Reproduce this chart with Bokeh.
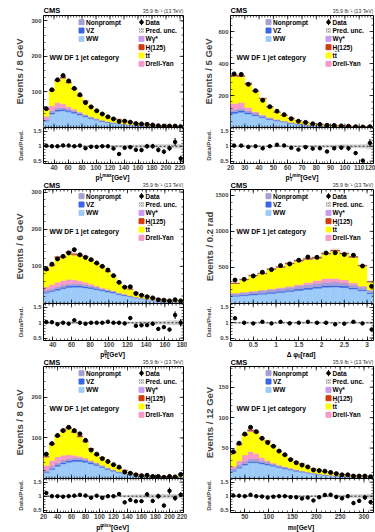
import numpy as np
from bokeh.plotting import figure
from bokeh.models import Range1d, Label, FixedTicker, Span
from bokeh.layouts import column, row
from bokeh.embed import file_html
from bokeh.resources import INLINE

FONT = "Liberation Sans"

# ---------------- bin edges ----------------
ptmax_edges = np.arange(25, 226, 8)
ptmin_edges = np.arange(20, 121, 5)
ptll_edges = np.arange(30, 181, 6)
dphi_edges = np.linspace(0.0, 3.2, 17)
ptmiss_edges = np.arange(20, 221, 8)
mll_edges = np.arange(20, 321, 12)

# ---------------- leading lepton pT ----------------
ptmax_ww = [18, 38, 46, 47, 44, 40, 35, 30, 25, 21, 17, 14, 12, 10, 8.5, 7, 6, 5, 4.2, 3.5, 2.8, 2.4, 2, 1.7, 1.6]
ptmax_vz = [1.5, 3, 4, 4, 3.8, 3.5, 3, 2.6, 2.2, 1.8, 1.5, 1.2, 1, 0.9, 0.8, 0.7, 0.6, 0.5, 0.4, 0.35, 0.3, 0.25, 0.2, 0.2, 0.2]
ptmax_np = [4, 6, 6, 5.5, 5, 4.5, 4, 3.3, 2.7, 2.2, 1.8, 1.4, 1.2, 1, 0.8, 0.7, 0.6, 0.5, 0.4, 0.3, 0.3, 0.2, 0.2, 0.2, 0.2]
ptmax_dy = [8, 14, 14, 10, 6, 4, 2.5, 1.5, 1, 0.7, 0.5, 0.4, 0.3, 0.2, 0.2, 0.1, 0.1, 0.1, 0.1, 0.1, 0.1, 0.1, 0.1, 0.1, 0.1]
ptmax_tt = [19, 41.5, 60, 71.7, 66.1, 55.6, 43.7, 36.4, 27.3, 21.7, 16.8, 12.7, 11.2, 10.7, 8.55, 6.85, 5.1, 5.35, 3.85, 2.7, 2.15, 1.9, 1.75, 1.25, 1.25]
ptmax_h = [1, 2.5, 3, 3, 2.5, 2, 1.5, 1, 0.7, 0.5, 0.3, 0.2, 0.2, 0.1, 0.1, 0.1, 0.1, 0.05, 0.05, 0.05, 0.05, 0.05, 0.05, 0.05, 0.05]
ptmax_wg = [0.5, 1, 1, 0.8, 0.6, 0.4, 0.3, 0.2, 0.1, 0.1, 0.1, 0.1, 0.1, 0.1, 0.05, 0.05, 0, 0, 0, 0, 0, 0, 0, 0, 0]
ptmax_data = [53, 106, 134, 146, 131, 110, 92, 70, 58, 47, 38, 30, 24, 17, 18, 15, 11, 10, 9, 7, 5, 4, 4, 4, 2]
ptmax_rel = [0.03, 0.02, 0.02, 0.02, 0.02, 0.02, 0.02, 0.025, 0.03, 0.03, 0.035, 0.04, 0.045, 0.05, 0.05, 0.06, 0.06, 0.07, 0.08, 0.08, 0.09, 0.1, 0.1, 0.12, 0.15]
ptmax_unc = [0.04, 0.03, 0.03, 0.03, 0.03, 0.03, 0.03, 0.03, 0.03, 0.03, 0.03, 0.035, 0.04, 0.04, 0.045, 0.05, 0.05, 0.055, 0.06, 0.06, 0.065, 0.07, 0.07, 0.08, 0.08]

# ---------------- trailing lepton pT ----------------
ptmin_ww = [88, 95, 85, 74, 62, 50, 41, 34, 27, 21, 16, 13, 10.5, 8.5, 7, 5.5, 4.5, 3.5, 3, 2.4]
ptmin_vz = [10, 11, 9, 7.5, 6, 5, 4, 3.2, 2.5, 2, 1.6, 1.3, 1, 0.8, 0.7, 0.5, 0.4, 0.3, 0.3, 0.2]
ptmin_np = [14, 14, 11, 9, 7, 5.5, 4.3, 3.5, 2.7, 2, 1.6, 1.3, 1, 0.8, 0.6, 0.5, 0.4, 0.3, 0.3, 0.2]
ptmin_dy = [38, 36, 20, 10, 5, 3, 1.8, 1.2, 0.8, 0.5, 0.4, 0.3, 0.2, 0.2, 0.1, 0.1, 0.1, 0.1, 0.1, 0.1]
ptmin_tt = [170, 161, 144.5, 124.5, 99.3, 64, 44.1, 34.9, 24.2, 17.9, 13, 8.85, 7.5, 6.55, 5.5, 3.85, 3.15, 2.25, 2.05, 1.55]
ptmin_h = [6, 6, 5, 4, 3, 2, 1.5, 1, 0.7, 0.5, 0.3, 0.2, 0.15, 0.1, 0.1, 0.05, 0.05, 0.05, 0.05, 0.05]
ptmin_wg = [2, 2, 1.5, 1, 0.7, 0.5, 0.3, 0.2, 0.1, 0.1, 0.1, 0.05, 0.05, 0.05, 0, 0, 0, 0, 0, 0]
ptmin_data = [335, 332, 270, 230, 170, 130, 102, 80, 55, 39, 32, 23, 19, 14, 13, 10, 8, 5, 3, 5]
ptmin_rel = [0.02, 0.02, 0.02, 0.02, 0.02, 0.025, 0.03, 0.03, 0.035, 0.04, 0.045, 0.05, 0.055, 0.06, 0.06, 0.07, 0.08, 0.08, 0.09, 0.12]
ptmin_unc = [0.03, 0.03, 0.03, 0.03, 0.03, 0.03, 0.03, 0.03, 0.035, 0.035, 0.04, 0.04, 0.045, 0.05, 0.05, 0.055, 0.06, 0.06, 0.07, 0.1]

# ---------------- dilepton pT ----------------
ptll_ww = [28, 32, 36, 40, 43, 44, 44, 42, 40, 37, 34, 31, 28, 24, 21, 18, 15, 12.5, 10.5, 8.5, 7, 6, 5, 4.3, 3.6]
ptll_vz = [2.5, 3, 3.5, 4, 4, 4, 4, 4, 3.8, 3.5, 3.2, 3, 2.7, 2.3, 2, 1.7, 1.4, 1.2, 1, 0.8, 0.7, 0.6, 0.5, 0.4, 0.35]
ptll_np = [6, 6, 6, 6, 6, 6, 5.5, 5, 4.5, 4, 3.5, 3, 2.6, 2.2, 1.8, 1.5, 1.2, 1, 0.8, 0.7, 0.6, 0.5, 0.4, 0.3, 0.3]
ptll_dy = [8, 10, 12, 12, 12, 10, 8, 6, 4, 3, 2, 1.5, 1, 0.7, 0.5, 0.3, 0.2, 0.2, 0.1, 0.1, 0.1, 0.1, 0.1, 0.1, 0.1]
ptll_tt = [43.5, 49.5, 64.5, 61, 71.2, 66.3, 66.4, 68.3, 63.3, 59.4, 55.5, 47.1, 39.5, 26.9, 19, 16.9, 11.7, 8.75, 6.85, 5.15, 3.95, 3.2, 2.9, 2.8, 2.55]
ptll_h = [2, 2.5, 3, 3, 3, 3, 2.5, 2.2, 2, 1.8, 1.5, 1.2, 1, 0.8, 0.6, 0.5, 0.4, 0.3, 0.2, 0.2, 0.15, 0.1, 0.1, 0.1, 0.1]
ptll_wg = [1, 1, 1, 1, 0.8, 0.7, 0.6, 0.5, 0.4, 0.3, 0.3, 0.2, 0.2, 0.1, 0.1, 0.1, 0.1, 0.05, 0.05, 0.05, 0, 0, 0, 0, 0]
ptll_data = [93, 106, 120, 127, 136, 145, 131, 124, 118, 109, 100, 90, 75, 57, 44, 45, 27, 22, 18, 15, 10, 9, 7, 10, 7]
ptll_rel = [0.03, 0.03, 0.025, 0.025, 0.025, 0.025, 0.025, 0.025, 0.025, 0.03, 0.03, 0.03, 0.035, 0.04, 0.04, 0.045, 0.05, 0.05, 0.06, 0.06, 0.07, 0.07, 0.08, 0.1, 0.12]
ptll_unc = [0.03, 0.03, 0.03, 0.03, 0.03, 0.03, 0.03, 0.03, 0.03, 0.03, 0.03, 0.03, 0.035, 0.035, 0.04, 0.04, 0.045, 0.05, 0.05, 0.055, 0.06, 0.06, 0.07, 0.08, 0.08]

# ---------------- azimuthal separation ----------------
dphi_ww = [100, 108, 118, 128, 140, 152, 165, 180, 195, 210, 225, 228, 220, 200, 175, 135]
dphi_vz = [12, 13, 14, 15, 16, 17, 18, 20, 21, 22, 23, 23, 22, 20, 18, 15]
dphi_np = [30, 32, 34, 36, 38, 40, 42, 44, 46, 48, 48, 46, 43, 40, 35, 30]
dphi_dy = [5, 6, 7, 8, 10, 12, 15, 20, 28, 40, 50, 50, 40, 28, 15, 8]
dphi_tt = [128, 168, 208, 224, 266, 278, 308, 323, 321, 305, 339, 379, 362, 350, 276, 108]
dphi_h = [5, 5, 6, 6, 7, 8, 9, 10, 11, 12, 12, 11, 10, 9, 8, 6]
dphi_wg = [3, 3, 3, 3, 3, 3, 3, 3, 3, 3, 3, 3, 3, 3, 3, 3]
dphi_data = [325, 335, 382, 433, 470, 525, 549, 600, 644, 640, 700, 703, 679, 670, 519, 238]
dphi_rel = [0.03, 0.03, 0.025, 0.025, 0.02, 0.02, 0.02, 0.02, 0.02, 0.02, 0.02, 0.02, 0.02, 0.02, 0.025, 0.04]
dphi_unc = [0.03, 0.03, 0.03, 0.03, 0.03, 0.03, 0.03, 0.03, 0.03, 0.03, 0.03, 0.03, 0.03, 0.03, 0.03, 0.04]

# ---------------- missing transverse momentum ----------------
ptmiss_ww = [14, 22, 30, 36, 40, 42, 42, 40, 36, 32, 27, 22, 18, 14, 11, 8.5, 6.5, 5, 4, 3.3, 2.7, 2.3, 2, 1.8, 4]
ptmiss_vz = [1.5, 2.5, 3, 3.5, 4, 4, 4, 3.8, 3.5, 3.2, 2.8, 2.4, 2, 1.7, 1.4, 1.1, 0.9, 0.7, 0.6, 0.5, 0.4, 0.35, 0.3, 0.3, 0.6]
ptmiss_np = [5, 6, 6, 6, 5.5, 5, 4.5, 4, 3.5, 3, 2.5, 2, 1.7, 1.4, 1.1, 0.9, 0.7, 0.6, 0.5, 0.4, 0.3, 0.3, 0.2, 0.2, 0.4]
ptmiss_dy = [12, 14, 14, 12, 9, 6, 4, 2.5, 1.5, 1, 0.7, 0.5, 0.3, 0.2, 0.2, 0.1, 0.1, 0.1, 0.1, 0.1, 0.1, 0.1, 0.1, 0.1, 0.1]
ptmiss_tt = [19.7, 38.5, 49.5, 58.5, 63.7, 55.6, 47.5, 39.3, 27.6, 18.4, 17.8, 14.2, 11.3, 8.2, 6.45, 4.15, 2.6, 2.0, 2.2, 1.6, 1.45, 1.4, 1.55, 1.85, 4.3]
ptmiss_h = [1, 2, 2.5, 3, 3, 2.8, 2.5, 2, 1.6, 1.2, 1, 0.8, 0.6, 0.4, 0.3, 0.2, 0.2, 0.1, 0.1, 0.1, 0.05, 0.05, 0.05, 0.05, 0.1]
ptmiss_wg = [0.8, 1, 1, 1, 0.8, 0.6, 0.5, 0.4, 0.3, 0.2, 0.2, 0.1, 0.1, 0.1, 0.05, 0.05, 0, 0, 0, 0, 0, 0, 0, 0, 0]
ptmiss_data = [60, 86, 106, 118, 126, 118, 110, 94, 70, 60, 49, 42, 34, 28, 16, 13, 9, 7, 8, 5, 5, 3, 5, 4, 10]
ptmiss_rel = [0.03, 0.025, 0.025, 0.02, 0.02, 0.02, 0.02, 0.025, 0.03, 0.03, 0.035, 0.035, 0.04, 0.045, 0.05, 0.06, 0.06, 0.07, 0.08, 0.08, 0.09, 0.1, 0.1, 0.1, 0.08]
ptmiss_unc = [0.03, 0.03, 0.03, 0.03, 0.03, 0.03, 0.03, 0.03, 0.03, 0.03, 0.035, 0.035, 0.04, 0.04, 0.045, 0.05, 0.06, 0.06, 0.07, 0.07, 0.08, 0.08, 0.08, 0.08, 0.06]

# ---------------- dilepton mass ----------------
mll_ww = [12, 17, 22, 26, 26, 24, 22, 20, 18, 16, 14, 12, 10.5, 9, 7.5, 6.5, 5.5, 4.6, 4, 3.4, 2.9, 2.5, 2.2, 1.9, 1.7]
mll_vz = [1, 1.5, 2, 2, 2, 2, 1.8, 1.6, 1.4, 1.2, 1.1, 1, 0.9, 0.8, 0.7, 0.6, 0.5, 0.4, 0.35, 0.3, 0.25, 0.2, 0.2, 0.2, 0.15]
mll_np = [4, 4.5, 4.5, 4.5, 4, 3.6, 3.2, 2.8, 2.4, 2, 1.7, 1.4, 1.2, 1, 0.8, 0.7, 0.6, 0.5, 0.4, 0.35, 0.3, 0.25, 0.2, 0.2, 0.15]
mll_dy = [3, 6, 10, 12, 9, 5, 2.5, 1.2, 0.6, 0.4, 0.3, 0.2, 0.15, 0.1, 0.1, 0.1, 0.1, 0.1, 0.05, 0.05, 0.05, 0.05, 0.05, 0.05, 0.05]
mll_tt = [21.4, 25.8, 31.8, 32.9, 34, 30.5, 31.3, 27.5, 21.9, 18.9, 14.5, 12.1, 11, 8.9, 7.25, 5.5, 4.7, 3.85, 3.35, 2.35, 2.45, 2.25, 2.1, 1.8, 1.7]
mll_h = [1, 1.5, 2, 2, 1.5, 1.2, 0.9, 0.7, 0.5, 0.4, 0.3, 0.2, 0.2, 0.15, 0.1, 0.1, 0.1, 0.05, 0.05, 0.05, 0.05, 0.05, 0.05, 0.05, 0.05]
mll_wg = [0.6, 0.7, 0.7, 0.6, 0.5, 0.4, 0.3, 0.2, 0.2, 0.1, 0.1, 0.1, 0.05, 0.05, 0.05, 0, 0, 0, 0, 0, 0, 0, 0, 0, 0]
mll_data = [44, 58, 73, 84, 77, 66, 59, 53, 45, 39, 31, 26, 22, 19, 14, 13, 12, 10, 8, 6, 6, 4, 4, 4, 3]
mll_rel = [0.03, 0.03, 0.025, 0.025, 0.025, 0.025, 0.03, 0.03, 0.03, 0.035, 0.035, 0.04, 0.04, 0.045, 0.05, 0.05, 0.055, 0.06, 0.06, 0.07, 0.07, 0.08, 0.08, 0.09, 0.1]
mll_unc = [0.03, 0.03, 0.03, 0.03, 0.03, 0.03, 0.03, 0.03, 0.03, 0.03, 0.03, 0.035, 0.035, 0.04, 0.04, 0.045, 0.05, 0.05, 0.05, 0.055, 0.06, 0.06, 0.07, 0.07, 0.08]

# process colours, stacking order bottom -> top
C_WW, C_VZ, C_NP, C_DY = "#9dcbf9", "#3a66e6", "#a49fd4", "#f79ac9"
C_TT, C_H, C_WG = "#ffff00", "#d03c10", "#c99cf2"
STACK_COLORS = [C_WW, C_VZ, C_NP, C_DY, C_TT, C_WG, C_H]

PANELS = [
    dict(edges=ptmax_edges, stack=[ptmax_ww, ptmax_vz, ptmax_np, ptmax_dy, ptmax_tt, ptmax_wg, ptmax_h],
         data=ptmax_data, rel=ptmax_rel, unc=ptmax_unc, xr=(25, 225), yr=(0, 315),
         xt=np.arange(40, 221, 20), xm=4, yt=[100, 200, 300], ym=20, ystand=3,
         ylab="Events / 8 GeV", xlab=[("p", "n"), (("T", "l max"), "ss"), (" [GeV]", "n")]),
    dict(edges=ptmin_edges, stack=[ptmin_ww, ptmin_vz, ptmin_np, ptmin_dy, ptmin_tt, ptmin_wg, ptmin_h],
         data=ptmin_data, rel=ptmin_rel, unc=ptmin_unc, xr=(20, 120), yr=(0, 700),
         xt=np.arange(20, 121, 10), xm=2, yt=[200, 400, 600], ym=40, ystand=1,
         ylab="Events / 5 GeV", xlab=[("p", "n"), (("T", "l min"), "ss"), ("[GeV]", "n")]),
    dict(edges=ptll_edges, stack=[ptll_ww, ptll_vz, ptll_np, ptll_dy, ptll_tt, ptll_wg, ptll_h],
         data=ptll_data, rel=ptll_rel, unc=ptll_unc, xr=(30, 180), yr=(0, 307),
         xt=np.arange(40, 181, 20), xm=4, yt=[100, 200, 300], ym=20, ystand=3,
         ylab="Events / 6 GeV", xlab=[("p", "n"), (("T", "ll"), "ss"), (" [GeV]", "n")]),
    dict(edges=dphi_edges, stack=[dphi_ww, dphi_vz, dphi_np, dphi_dy, dphi_tt, dphi_wg, dphi_h],
         data=dphi_data, rel=dphi_rel, unc=dphi_unc, xr=(0, np.pi), yr=(0, 1580),
         xt=np.arange(0, 3.01, 0.5), xm=0.1, yt=[500, 1000, 1500], ym=100, ystand=-3,
         ylab="Events / 0.2 rad", xlab=[("Δ φ", "n"), ("ll", "sub"), (" [rad]", "n")]),
    dict(edges=ptmiss_edges, stack=[ptmiss_ww, ptmiss_vz, ptmiss_np, ptmiss_dy, ptmiss_tt, ptmiss_wg, ptmiss_h],
         data=ptmiss_data, rel=ptmiss_rel, unc=ptmiss_unc, xr=(20, 220), yr=(0, 276),
         xt=np.arange(20, 221, 20), xm=4, yt=[100, 200], ym=20, ystand=3,
         ylab="Events / 8 GeV", xlab=[("p", "n"), (("T", "miss"), "ss"), (" [GeV]", "n")]),
    dict(edges=mll_edges, stack=[mll_ww, mll_vz, mll_np, mll_dy, mll_tt, mll_wg, mll_h],
         data=mll_data, rel=mll_rel, unc=mll_unc, xr=(20, 320), yr=(0, 184),
         xt=np.arange(50, 301, 50), xm=10, yt=[50, 100, 150], ym=10, ystand=0,
         ylab="Events / 12 GeV", xlab=[("m", "n"), ("ll", "sub"), (" [GeV]", "n")]),
]

# layout (pixels)
COLS = [dict(fw=140, left=43, right=4, rstand=6), dict(fw=143, left=43, right=2, rstand=5)]
MAIN_H = [112, 114, 112]
RATIO_H = [36, 37, 34]
RATIO_BOT = 9
STRIPS = [15, 17, 17, 11]             # text strips above / between / below the rows
STRIP_TITLE = [None, 12.0, 12.0, 6.4]  # x-title centre inside each strip (from strip bottom)
STRIP_HEAD = [5.0, 4.3, 4.3, None]     # CMS line centre inside each strip
RATIO_RANGE = (0.42, 1.63)

# approximate bold Helvetica advance widths (per 1000 em)
BW = {"p": 611, "T": 611, "l": 278, " ": 278, "m": 889, "a": 556, "x": 556, "i": 278, "n": 611,
      "s": 556, "[": 333, "]": 333, "G": 778, "e": 556, "V": 667, "Δ": 720, "φ": 700, "r": 389, "d": 611}
T_MAIN, T_SMALL = 6.7, 4.7


def tw(s, size):
    return sum(BW.get(c, 580) for c in s) * size / 1000.0


def label(fig, x, y, text, size, bold=True, align="left", baseline="middle", color="black"):
    fig.add_layout(Label(x=x, y=y, text=text, text_font=FONT, text_font_size=f"{size}px",
                         text_font_style="bold" if bold else "normal", text_align=align,
                         text_baseline=baseline, text_color=color))


def style_axis(ax, ticks, minor, size="6px", standoff=2):
    ax.ticker = FixedTicker(ticks=list(ticks), minor_ticks=list(minor))
    ax.axis_line_color = None
    ax.major_tick_in, ax.major_tick_out = 4, 0
    ax.minor_tick_in, ax.minor_tick_out = 2, 0
    ax.major_tick_line_width = 0.8
    ax.minor_tick_line_width = 0.6
    ax.major_label_text_font = FONT
    ax.major_label_text_font_size = size
    ax.major_label_text_font_style = "bold"
    ax.major_label_standoff = standoff


def inner_ticks(fig, vals, minor, side, x0, x1, y0, y1, dx, dy):
    """inward tick marks on frame sides that carry no axis"""
    xs0, ys0, xs1, ys1 = [], [], [], []
    for v_list, ln in ((vals, 4), (minor, 2)):
        for v in v_list:
            if side == "top":
                xs0.append(v); xs1.append(v); ys0.append(y1); ys1.append(y1 - ln * dy)
            elif side == "bottom":
                xs0.append(v); xs1.append(v); ys0.append(y0); ys1.append(y0 + ln * dy)
            else:
                ys0.append(v); ys1.append(v); xs0.append(x1); xs1.append(x1 - ln * dx)
    fig.segment(x0=xs0, y0=ys0, x1=xs1, y1=ys1, line_color="black", line_width=0.7)


def make_strip(col, h, title_cfg, title_y, head_y):
    fw = col["fw"]
    s = figure(width=col["left"] + fw + col["right"], height=h, x_range=Range1d(0, fw), y_range=Range1d(0, h),
               output_backend="svg", toolbar_location=None, x_axis_location=None, y_axis_location=None,
               min_border_left=col["left"], min_border_right=col["right"], min_border_top=0, min_border_bottom=0)
    s.grid.visible = False
    s.outline_line_color = None
    if head_y is not None:
        label(s, 0, head_y, "CMS", 7.5)
        label(s, fw, head_y, "35.9 fb⁻¹ (13 TeV)", 5.2, bold=False, align="right", color="#333333")
    if title_cfg is not None:
        pieces, total_w = [], 0.0
        for txt, kind in title_cfg:
            if kind == "n":
                w = tw(txt, T_MAIN)
            elif kind == "sub":
                w = tw(txt, T_SMALL)
            else:
                w = max(tw(txt[0], T_SMALL), tw(txt[1], T_SMALL))
            pieces.append((txt, kind, w))
            total_w += w
        cur = fw / 2 - total_w / 2
        for txt, kind, w in pieces:
            if kind == "n":
                label(s, cur, title_y, txt, T_MAIN)
            elif kind == "sub":
                label(s, cur, title_y - 1.8, txt, T_SMALL)
            else:
                label(s, cur, title_y - 1.8, txt[0], T_SMALL)
                label(s, cur, title_y + 1.8, txt[1], T_SMALL)
            cur += w
    return s


def make_panels(cfg, col, fhm, fhr):
    fw = col["fw"]
    edges = np.asarray(cfg["edges"], dtype=float)
    lo, hi = edges[:-1], edges[1:]
    ctr = 0.5 * (lo + hi)
    x0, x1 = cfg["xr"]
    y0, y1 = cfg["yr"]
    xr = Range1d(x0, x1)
    dx = (x1 - x0) / fw
    dym = (y1 - y0) / fhm
    xminor = [v for v in np.arange(np.floor(x0 / cfg["xm"]) * cfg["xm"], x1 + 1e-9, cfg["xm"]) if x0 <= v <= x1]
    yminor = list(np.arange(0, y1 + 1e-9, cfg["ym"]))

    # ---- main panel ----
    m = figure(width=col["left"] + fw + col["right"], height=fhm, x_range=xr, y_range=Range1d(y0, y1),
               output_backend="svg", toolbar_location=None, x_axis_location=None,
               min_border_left=col["left"], min_border_right=col["right"], min_border_top=0, min_border_bottom=0)
    m.grid.visible = False
    m.outline_line_color = "black"
    m.outline_line_width = 1
    ya = m.yaxis[0]
    style_axis(ya, cfg["yt"], yminor)
    ya.axis_label = cfg["ylab"]
    ya.axis_label_text_font = FONT
    ya.axis_label_text_font_size = "9.5px"
    ya.axis_label_text_font_style = "bold"
    ya.axis_label_standoff = cfg["ystand"]

    bottom = np.zeros(len(lo))
    for arr, c in zip(cfg["stack"], STACK_COLORS):
        a = np.asarray(arr, dtype=float)
        m.quad(left=lo, right=hi, bottom=bottom, top=bottom + a, fill_color=c, line_color=c, line_width=0.4)
        bottom = bottom + a
    total = bottom
    unc = np.asarray(cfg["unc"], dtype=float)
    m.quad(left=lo, right=hi, bottom=total * (1 - unc), top=total * (1 + unc), fill_alpha=0,
           line_alpha=0, hatch_pattern="x", hatch_color="#777777", hatch_scale=3, hatch_weight=0.5, hatch_alpha=0.7)

    data = np.asarray(cfg["data"], dtype=float)
    err = data * np.asarray(cfg["rel"], dtype=float)
    m.segment(x0=ctr, y0=data - err, x1=ctr, y1=data + err, line_color="black", line_width=1)
    m.scatter(ctr, data, size=4, color="black")

    inner_ticks(m, cfg["xt"], xminor, "top", x0, x1, y0, y1, dx, dym)
    inner_ticks(m, cfg["xt"], xminor, "bottom", x0, x1, y0, y1, dx, dym)
    inner_ticks(m, cfg["yt"], yminor, "right", x0, x1, y0, y1, dx, dym)

    # legend
    def py(p):
        return y1 - p * dym
    rows_y = [6.7 + 8.33 * k for k in range(6)]
    for k, (name, c) in enumerate([("Nonprompt", C_NP), ("VZ", C_VZ), ("WW", C_WW)]):
        m.scatter([x0 + 38 * dx], [py(rows_y[k])], marker="square", size=5, fill_color=c, line_color=c)
        label(m, x0 + 42.5 * dx, py(rows_y[k]), name, 6.5)
    xd = x0 + 98 * dx
    m.segment(x0=[xd], y0=[py(rows_y[0] - 3)], x1=[xd], y1=[py(rows_y[0] + 3)], line_color="black", line_width=1)
    m.scatter([xd], [py(rows_y[0])], size=3.5, color="black")
    label(m, x0 + 102 * dx, py(rows_y[0]), "Data", 6.5)
    m.scatter([xd], [py(rows_y[1])], marker="square", size=5, fill_color="white", line_color=None,
              hatch_pattern="x", hatch_color="#666666", hatch_scale=2.5, hatch_weight=0.6)
    label(m, x0 + 102 * dx, py(rows_y[1]), "Pred. unc.", 6.5)
    for k, (name, c) in enumerate([("Wγ*", C_WG), ("H(125)", C_H), ("tt\u0304", C_TT), ("Drell-Yan", C_DY)]):
        m.scatter([xd], [py(rows_y[k + 2])], marker="square", size=5, fill_color=c, line_color=c)
        label(m, x0 + 102 * dx, py(rows_y[k + 2]), name, 6.5)
    label(m, x0 + 6 * dx, py(41.5), "WW DF 1 jet category", 6.8)

    # ---- ratio panel ----
    r0, r1 = RATIO_RANGE
    dyr = (r1 - r0) / fhr
    r = figure(width=col["left"] + fw + col["right"], height=fhr + RATIO_BOT, x_range=xr, y_range=Range1d(r0, r1),
               output_backend="svg", toolbar_location=None,
               min_border_left=col["left"], min_border_right=col["right"], min_border_top=0,
               min_border_bottom=RATIO_BOT)
    r.grid.visible = False
    r.outline_line_color = "black"
    r.outline_line_width = 1
    rminor = list(np.arange(0.5, 1.61, 0.1))
    style_axis(r.xaxis[0], cfg["xt"], xminor, size="6.5px", standoff=1)
    r.xaxis[0].major_label_overrides = {float(t): f"{t:g}" for t in cfg["xt"]}
    ry = r.yaxis[0]
    style_axis(ry, [0.5, 1.0, 1.5], rminor)
    ry.major_label_overrides = {0.5: "0.5", 1.0: "1", 1.5: "1.5"}
    ry.axis_label = "Data/Pred."
    ry.axis_label_text_font = FONT
    ry.axis_label_text_font_size = "6.2px"
    ry.axis_label_text_font_style = "bold"
    ry.axis_label_standoff = col["rstand"]
    inner_ticks(r, cfg["xt"], xminor, "top", x0, x1, r0, r1, dx, dyr)
    inner_ticks(r, [0.5, 1.0, 1.5], rminor, "right", x0, x1, r0, r1, dx, dyr)

    r.quad(left=lo, right=hi, bottom=1 - unc, top=1 + unc, fill_color="#999999", fill_alpha=0.45, line_color=None)
    r.add_layout(Span(location=1.0, dimension="width", line_color="black", line_width=0.8, line_dash="2 2"))
    ratio = data / total
    rerr = err / total
    r.segment(x0=ctr, y0=ratio - rerr, x1=ctr, y1=ratio + rerr, line_color="black", line_width=1)
    r.scatter(ctr, ratio, size=3.5, color="black")
    return m, r


columns = []
for j, col in enumerate(COLS):
    items = []
    for i in range(3):
        prev_title = PANELS[2 * (i - 1) + j]["xlab"] if i > 0 else None
        items.append(make_strip(col, STRIPS[i], prev_title, STRIP_TITLE[i], STRIP_HEAD[i]))
        m, r = make_panels(PANELS[2 * i + j], col, MAIN_H[i], RATIO_H[i])
        items += [m, r]
    items.append(make_strip(col, STRIPS[3], PANELS[4 + j]["xlab"], STRIP_TITLE[3], STRIP_HEAD[3]))
    columns.append(column(*items, spacing=0))

layout = row(*columns, spacing=0)
open("out.html", "w").write(file_html(layout, INLINE))
